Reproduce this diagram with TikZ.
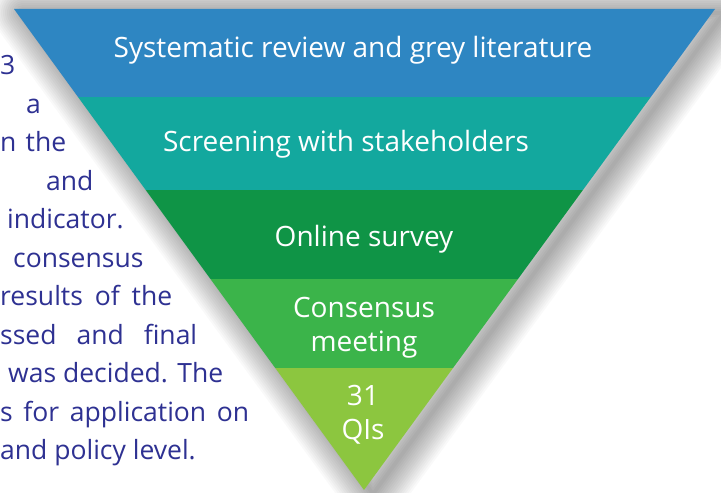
\documentclass[tikz,border=0pt]{standalone}
\usepackage{fontspec}
\setmainfont{Open Sans}

\definecolor{blueband}{HTML}{2E86C2}
\definecolor{tealband}{HTML}{13A89E}
\definecolor{darkgreenband}{HTML}{0F9446}
\definecolor{greenband}{HTML}{3BB44A}
\definecolor{limeband}{HTML}{8CC63F}
\definecolor{navytext}{HTML}{2E3192}

\tikzset{
  band label/.style={text=white, font=\fontsize{28}{34}\selectfont, align=center, anchor=base, inner sep=0pt},
  side text/.style={text=navytext, font=\fontsize{26.5}{30}\selectfont, anchor=base west, inner sep=0pt},
  shadow layer/.style={draw=black, opacity=0.022, line join=round},
}

\begin{document}
\begin{tikzpicture}[x=1pt,y=1pt]
	\useasboundingbox[fill=white] (0,0) rectangle (721,493);
	
	% paragraph running behind the funnel
	\node[side text] (para1) at (0,418) {3};
	\node[side text] (para2) at (26,379) {a};
	\node[side text] (para3) at (0,341) {\makebox[66pt][s]{n the}};
	\node[side text] (para4) at (46,302) {and};
	\node[side text] (para5) at (7,264) {indicator.};
	\node[side text] (para6) at (13,225) {consensus};
	\node[side text] (para7) at (0,187) {\makebox[172pt][s]{results of the}};
	\node[side text] (para8) at (0,148) {\makebox[197pt][s]{ssed and final}};
	\node[side text] (para9) at (8,110) {\makebox[215pt][s]{was decided. The}};
	\node[side text] (para10) at (0,71) {\makebox[249pt][s]{s for application on}};
	\node[side text] (para11) at (0,33) {and policy level.};
	
	% funnel
	\coordinate (topleft) at (14,484);
	\coordinate (topright) at (715,484);
	\coordinate (tip) at (364,3);
	% soft shadow
	\foreach \r in {2,4,...,30}
		\draw[shadow layer, line width=2*\r pt]
			([shift={(9,-4)}]topleft) -- ([shift={(9,-4)}]topright) -- ([shift={(9,-4)}]tip) -- cycle;
	\begin{scope}
		\clip (topleft) -- (topright) -- (tip) -- cycle;
		\fill[blueband] (0,396) rectangle (721,493);
		\fill[tealband] (0,303) rectangle (721,396);
		\fill[darkgreenband] (0,214) rectangle (721,303);
		\fill[greenband] (0,125) rectangle (721,214);
		\fill[limeband] (0,0) rectangle (721,125);
	\end{scope}
	
	\node[band label] (review) at (353,435) {Systematic review and grey literature};
	\node[band label] (screening) at (346,341) {Screening with stakeholders};
	\node[band label] (survey) at (364,246) {Online survey};
	\node[band label] (meeting) at (364,141) {Consensus\\meeting};
	\node[band label] (qis) at (363,53) {31\\QIs};
\end{tikzpicture}
\end{document}
